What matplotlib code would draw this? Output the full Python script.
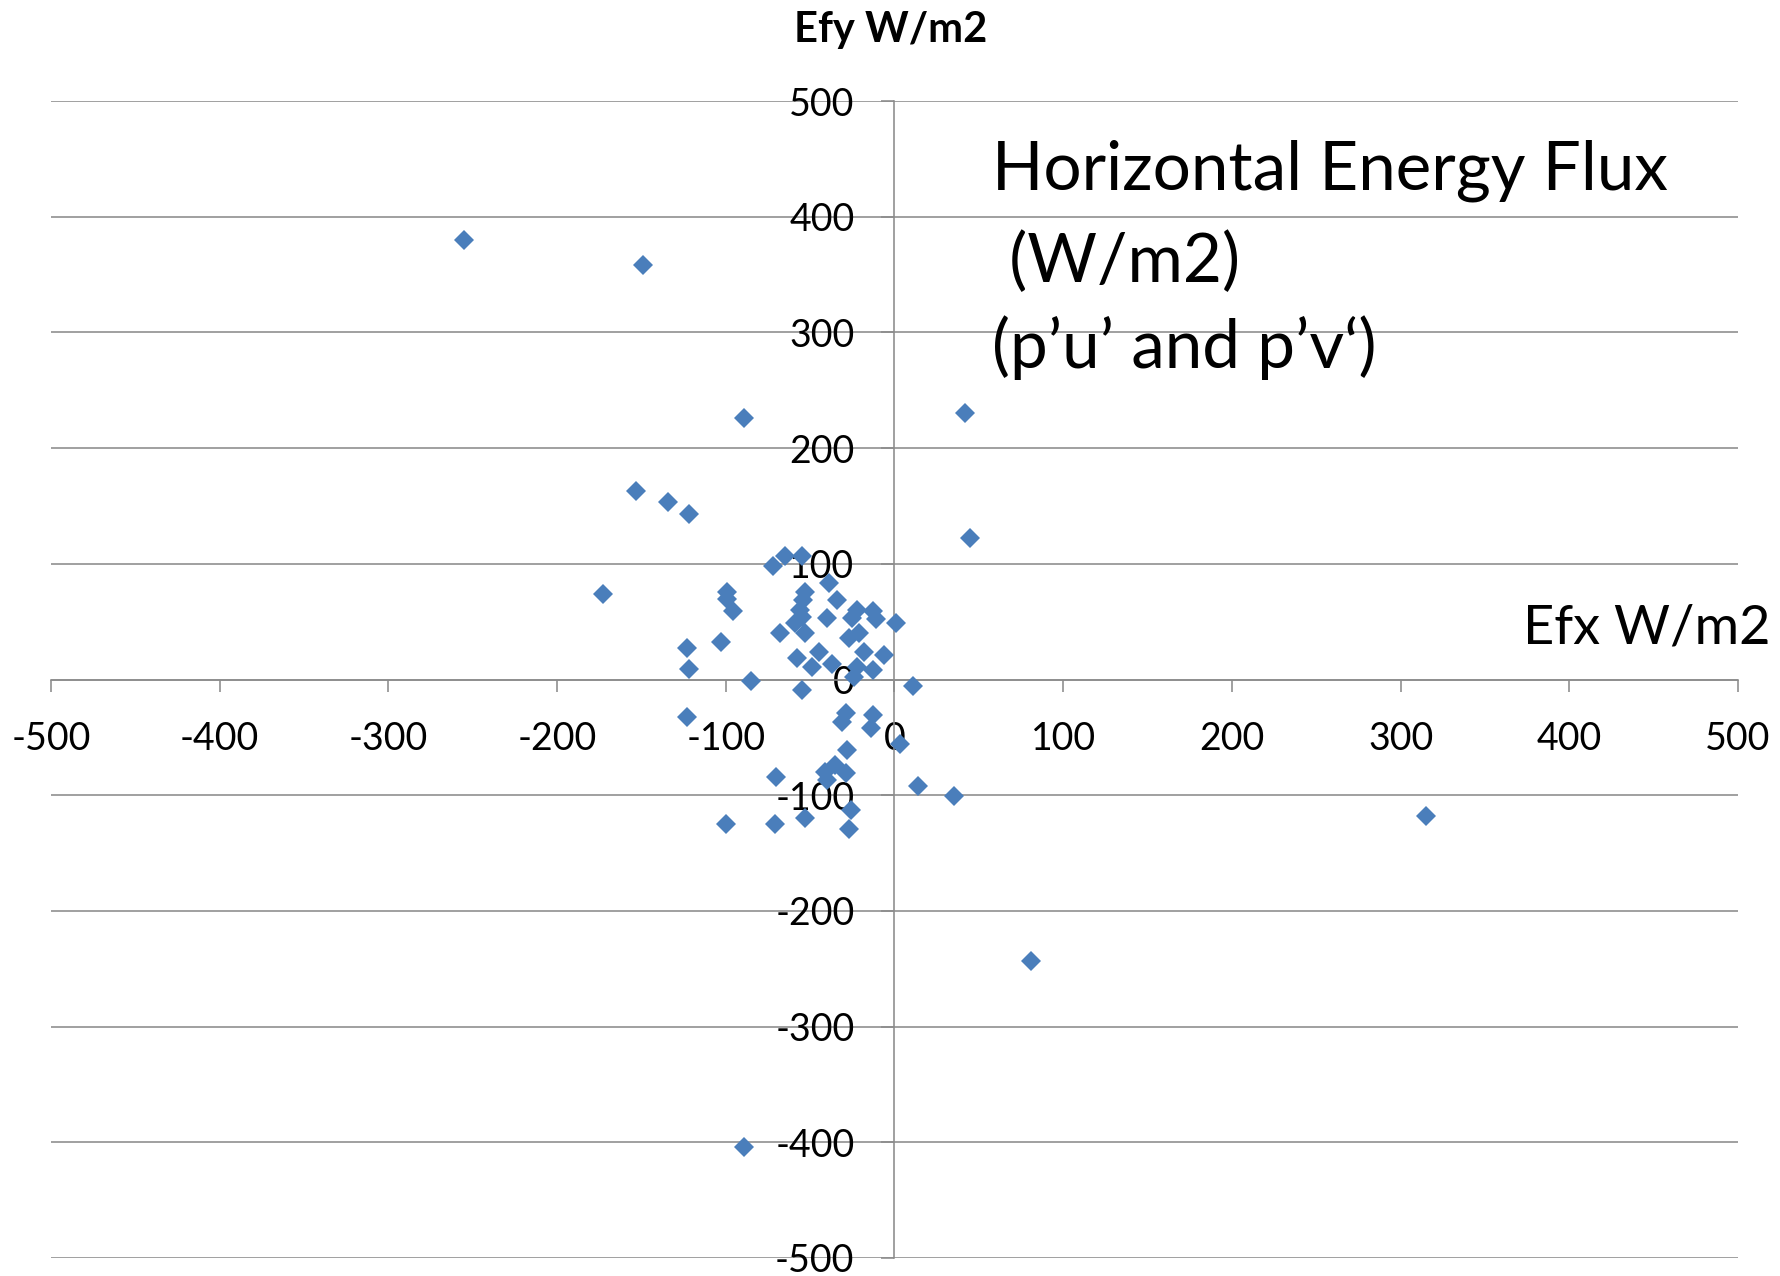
import matplotlib
matplotlib.use("Agg")
import matplotlib.pyplot as plt

plt.rcParams['font.family'] = ['Lato', 'DejaVu Sans']

# Horizontal energy flux components (W/m2)
efx = [-255, -149, -89, 42, -153, -134, -122, 45,
       -173, -99, -99, -96, -123, -122, -103, -85,
       -72, -65, -55, -53, -54, -56, -55, -59, -68, -53,
       -39, -34, -40, -22, -25, -13, -11, 1, -27, -21,
       -45, -58, -49, -37, -18, -6, -22, -13, -24, -55, 11,
       -123, -29, -31, -13, -14, 3, -28, -70,
       -41, -35, -29, -40, 14, -26, -100, -71, -53, -27,
       35, 315, 81, -89]
efy = [380, 358, 226, 230, 163, 153, 143, 122,
       74, 76, 70, 59, 27, 9, 32, -1,
       98, 107, 107, 76, 69, 60, 54, 49, 40, 40,
       83, 69, 53, 60, 53, 59, 52, 49, 36, 40,
       24, 19, 11, 13, 24, 21, 11, 8, 2, -9, -6,
       -32, -29, -37, -31, -42, -56, -61, -84,
       -80, -74, -81, -87, -92, -113, -125, -125, -120, -129,
       -101, -118, -243, -404]

ticks = [-500, -400, -300, -200, -100, 0, 100, 200, 300, 400, 500]

W, H, DPI = 1781, 1276, 100
fig = plt.figure(figsize=(W / DPI, H / DPI), dpi=DPI)
ax = fig.add_axes([51 / W, 18 / H, 1687 / W, 1157 / H])

grey = '#8c8c8c'
px = 72.0 / DPI  # points per pixel

ax.set_xlim(-500, 500)
ax.set_ylim(-500, 500)
ax.set_xticks(ticks)
ax.set_yticks(ticks)
ax.set_xticklabels([str(t) for t in ticks])
ax.set_yticklabels([str(t) for t in ticks])

# horizontal gridlines
ax.yaxis.grid(True, color=grey, linewidth=1.6 * px)
ax.xaxis.grid(False)
ax.set_axisbelow(True)

# axes crossing at the origin
for side in ('top', 'right'):
    ax.spines[side].set_visible(False)
ax.spines['left'].set_position(('data', 0))
ax.spines['bottom'].set_position(('data', 0))
for side in ('left', 'bottom'):
    ax.spines[side].set_color(grey)
    ax.spines[side].set_linewidth(1.6 * px)

ax.tick_params(axis='x', direction='out', length=12 * px, width=1.6 * px,
               color=grey, pad=29 * px, labelsize=27, labelcolor='black')
ax.tick_params(axis='y', direction='out', length=13 * px, width=1.6 * px,
               color=grey, pad=27 * px, labelsize=27, labelcolor='black')

ax.plot(efx, efy, linestyle='none', marker='D', markersize=10.2,
        markeredgewidth=0, color='#4a7ebb', zorder=3, clip_on=False)

# titles
fig.text(891 / W, 1 - 30 / H, 'Efy W/m2', fontsize=30, fontweight='bold',
         ha='center', va='center')
fig.text(1523 / W, 1 - 643 / H, 'Efx W/m2', fontsize=39, ha='left',
         va='baseline')
fig.text(992 / W, 1 - 190 / H, 'Horizontal Energy Flux', fontsize=48.5,
         ha='left', va='baseline')
fig.text(992 / W, 1 - 282 / H, ' (W/m2)', fontsize=48.5, ha='left',
         va='baseline')
fig.text(992 / W, 1 - 368 / H, '(p\u2019u\u2019 and p\u2019v\u2018)',
         fontsize=48.5, ha='left', va='baseline')

fig.savefig('out.png', dpi=DPI, facecolor='white')
